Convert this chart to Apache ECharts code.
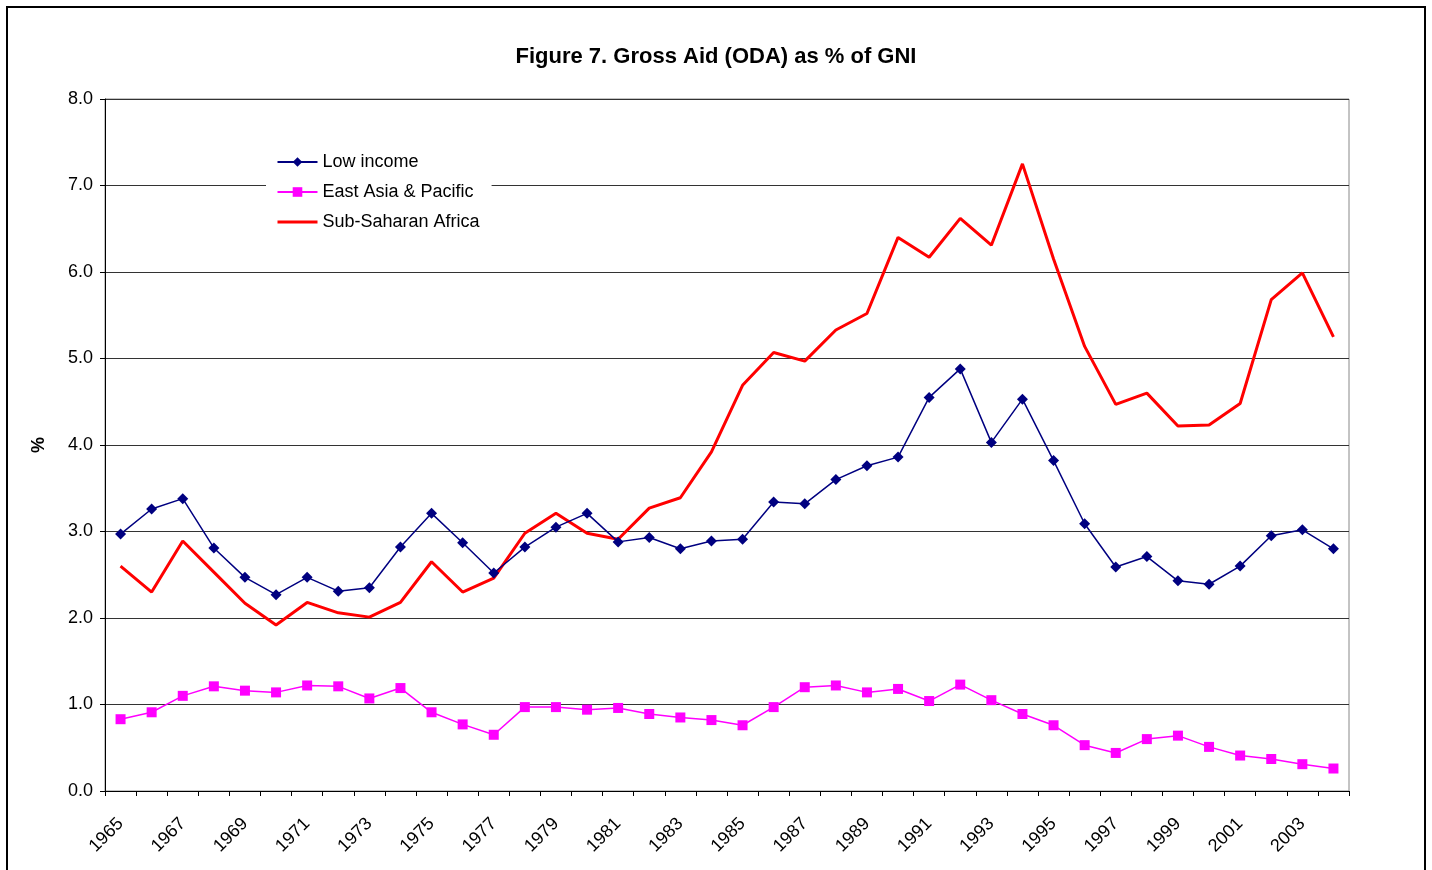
<!DOCTYPE html>
<html>
<head>
<meta charset="utf-8">
<style>
  html, body { margin: 0; padding: 0; background: #fff; }
  #chart { width: 1432px; height: 870px; }
</style>
<script src="https://cdn.jsdelivr.net/npm/echarts@6/dist/echarts.min.js"></script>
</head>
<body>
<div id="chart"></div>
<script>
// years 1965..2004
const years = ['1965', '1966', '1967', '1968', '1969', '1970', '1971', '1972', '1973', '1974',
  '1975', '1976', '1977', '1978', '1979', '1980', '1981', '1982', '1983', '1984',
  '1985', '1986', '1987', '1988', '1989', '1990', '1991', '1992', '1993', '1994',
  '1995', '1996', '1997', '1998', '1999', '2000', '2001', '2002', '2003', '2004']

const lowIncome = [2.97, 3.26, 3.38, 2.81, 2.47, 2.27, 2.47, 2.31, 2.35, 2.82,
  3.21, 2.87, 2.52, 2.82, 3.05, 3.21, 2.88, 2.93, 2.80, 2.89,
  2.91, 3.34, 3.32, 3.60, 3.76, 3.86, 4.55, 4.88, 4.03, 4.53,
  3.82, 3.09, 2.59, 2.71, 2.43, 2.39, 2.60, 2.95, 3.02, 2.80]

const eastAsia = [0.83, 0.91, 1.10, 1.21, 1.16, 1.14, 1.22, 1.21, 1.07, 1.19,
  0.91, 0.77, 0.65, 0.97, 0.97, 0.94, 0.96, 0.89, 0.85, 0.82,
  0.76, 0.97, 1.20, 1.22, 1.14, 1.18, 1.04, 1.23, 1.05, 0.89,
  0.76, 0.53, 0.44, 0.60, 0.64, 0.51, 0.41, 0.37, 0.31, 0.26]

const subSaharan = [2.60, 2.30, 2.89, 2.53, 2.17, 1.92, 2.18, 2.06, 2.01, 2.18,
  2.65, 2.30, 2.46, 2.98, 3.21, 2.98, 2.91, 3.27, 3.39, 3.92,
  4.69, 5.07, 4.97, 5.33, 5.52, 6.40, 6.17, 6.62, 6.31, 7.25,
  6.15, 5.14, 4.47, 4.60, 4.22, 4.23, 4.48, 5.68, 5.99, 5.25]

const font = 'Arial, "Liberation Sans", sans-serif'

const chart = echarts.init(document.getElementById('chart'))

chart.setOption({
  backgroundColor: '#fff',
  animation: false,
  title: {
    text: 'Figure 7. Gross Aid (ODA) as % of GNI',
    left: 'center',
    top: 41,
    textStyle: { fontFamily: font, fontSize: 22, fontWeight: 'bold', color: '#000' },
  },
  graphic: [
    {
      type: 'rect',
      shape: { x: 7, y: 7, width: 1418, height: 900 },
      style: { fill: 'none', stroke: '#000', lineWidth: 2 },
      z: 100,
    },
  ],
  legend: {
    orient: 'vertical',
    left: 266,
    top: 150,
    itemWidth: 40,
    itemHeight: 12,
    itemGap: 12,
    padding: [3, 12, 3, 10],
    backgroundColor: '#fff',
    textStyle: { fontFamily: font, fontSize: 18, color: '#000' },
    data: [
      'Low income',
      'East Asia & Pacific',
      { name: 'Sub-Saharan Africa', itemStyle: { opacity: 0 }, lineStyle: { width: 3 } },
    ],
  },
  grid: {
    left: 105,
    right: 83,
    top: 99,
    bottom: 79,
    show: true,
    borderColor: '#888',
    borderWidth: 1,
  },
  xAxis: {
    type: 'category',
    data: years,
    boundaryGap: true,
    axisLine: { show: true, lineStyle: { color: '#000', width: 1 } },
    axisTick: { show: true, interval: 0, length: 5, lineStyle: { color: '#000', width: 1 } },
    axisLabel: {
      interval: 1,
      rotate: 45,
      margin: 30,
      fontFamily: font,
      fontSize: 18,
      color: '#000',
    },
  },
  yAxis: {
    type: 'value',
    min: 0,
    max: 8,
    interval: 1,
    name: '%',
    nameLocation: 'middle',
    nameGap: 57,
    nameRotate: 90,
    nameTextStyle: { fontFamily: font, fontSize: 18, fontWeight: 'bold', color: '#000' },
    axisLine: { show: true, lineStyle: { color: '#000', width: 1 } },
    axisTick: { show: true, length: 5, lineStyle: { color: '#000' } },
    axisLabel: {
      margin: 12,
      fontFamily: font,
      fontSize: 18,
      color: '#000',
      formatter: (v) => v.toFixed(1),
    },
    splitLine: { lineStyle: { color: '#333', width: 1 } },
  },
  series: [
    {
      name: 'Low income',
      type: 'line',
      data: lowIncome,
      symbol: 'diamond',
      symbolSize: 11,
      lineStyle: { color: '#000080', width: 1.5 },
      itemStyle: { color: '#000080' },
      z: 3,
    },
    {
      name: 'East Asia & Pacific',
      type: 'line',
      data: eastAsia,
      symbol: 'rect',
      symbolSize: 10,
      lineStyle: { color: '#ff00ff', width: 1.5 },
      itemStyle: { color: '#ff00ff' },
      z: 3,
    },
    {
      name: 'Sub-Saharan Africa',
      type: 'line',
      data: subSaharan,
      symbol: 'none',
      lineStyle: { color: '#ff0000', width: 3 },
      itemStyle: { color: '#ff0000' },
      z: 2,
    },
  ],
})

window.addEventListener('resize', () => chart.resize())
</script>
</body>
</html>
